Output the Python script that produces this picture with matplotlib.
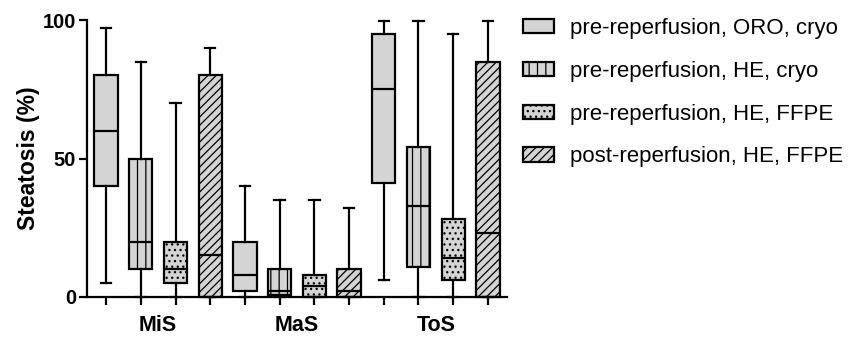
import numpy as np
import matplotlib
matplotlib.use('Agg')
import matplotlib.pyplot as plt
from matplotlib.patches import Patch

plt.rcParams['font.family'] = ['Liberation Sans', 'DejaVu Sans']
plt.rcParams['hatch.linewidth'] = 0.9

groups = ['MiS', 'MaS', 'ToS']
series = ['pre-reperfusion, ORO, cryo', 'pre-reperfusion, HE, cryo',
          'pre-reperfusion, HE, FFPE', 'post-reperfusion, HE, FFPE']
hatches = ['', '||', '...', '////']

# per box, order: MiS x4, MaS x4, ToS x4
whis_lo = [5, 0, 0, 0, 0, 0, 0, 0, 6, 0, 0, 0]
q1 = [40, 10, 5, 0, 2, 0.7, 0, 0, 41, 11, 6, 0]
med = [60, 20, 10, 15, 8, 2, 4, 2, 75, 33, 14, 23]
q3 = [80, 50, 20, 80, 20, 10, 8, 10, 95, 54, 28, 85]
whis_hi = [97, 85, 70, 90, 40, 35, 35, 32, 99.5, 99.5, 95, 99.5]

stats = []
for i in range(len(med)):
    stats.append(dict(med=med[i], q1=q1[i], q3=q3[i],
                      whislo=whis_lo[i], whishi=whis_hi[i], fliers=[]))

fig = plt.figure(figsize=(8.5, 3.39), dpi=100)
ax = fig.add_axes([87 / 850, 42 / 339, 420 / 850, 277 / 339])

pos = np.arange(1, len(med) + 1)
lw = 1.6
bp = ax.bxp(stats, positions=pos, widths=0.67, capwidths=0.3,
            patch_artist=True, showfliers=False,
            boxprops=dict(linewidth=lw, edgecolor='black', facecolor='#d4d4d4'),
            medianprops=dict(color='black', linewidth=lw),
            whiskerprops=dict(color='black', linewidth=lw),
            capprops=dict(color='black', linewidth=lw))
for i, box in enumerate(bp['boxes']):
    box.set_hatch(hatches[i % 4])
for art in bp['whiskers'] + bp['caps'] + bp['boxes'] + bp['medians']:
    art.set_clip_on(False)

ax.set_xlim(0.45, 12.55)
ax.set_ylim(0, 100)
ax.set_yticks([0, 50, 100])
ax.set_xticks(pos, minor=True)
ax.set_xticks([2.5, 6.5, 10.5])
ax.set_xticklabels(groups, fontsize=15.5, fontweight='bold')
ax.tick_params(axis='x', which='major', length=0, pad=13)
ax.tick_params(axis='x', which='minor', length=6, width=1.6)
ax.tick_params(axis='y', length=6, width=1.6, labelsize=14.5, pad=2)
for lab in ax.get_yticklabels():
    lab.set_fontweight('bold')
ax.set_ylabel('Steatosis (%)', fontsize=16.5, fontweight='bold', labelpad=2)

for s in ['top', 'right']:
    ax.spines[s].set_visible(False)
for s in ['left', 'bottom']:
    ax.spines[s].set_linewidth(1.6)

handles = [Patch(facecolor='#d4d4d4', edgecolor='black', linewidth=1.6, hatch=h)
           for h in hatches]
fig.legend(handles, series, loc='upper left', bbox_to_anchor=(523 / 850, 1 - 18 / 339),
           frameon=False, fontsize=16, handlelength=1.4, handleheight=0.6,
           handletextpad=0.72, labelspacing=0.98, borderaxespad=0, borderpad=0)

fig.savefig('out.png', dpi=100)
